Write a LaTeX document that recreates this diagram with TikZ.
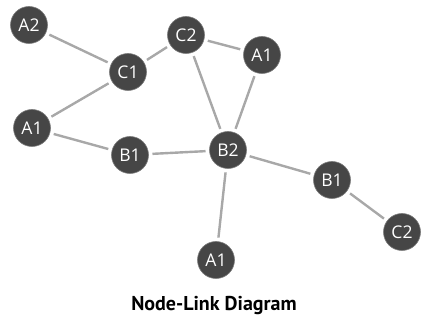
\documentclass[tikz,border=0pt]{standalone}
\usepackage{fontspec}
\setmainfont{Open Sans}
\newfontfamily\titlefont{PT Sans}
\definecolor{nodefill}{HTML}{464646}
\definecolor{nodering}{HTML}{7A7A7A}
\definecolor{edgegray}{HTML}{A8A8A8}
\begin{document}
\begin{tikzpicture}[x=1pt,y=-1pt,
  vtx/.style={circle,fill=nodefill,draw=nodering,line width=0.6pt,minimum size=37pt,inner sep=0pt,outer sep=4pt,text=white,font=\fontsize{17.5}{17.5}\selectfont},
  lnk/.style={draw=edgegray,line width=2.4pt}]
\useasboundingbox (0,0) rectangle (421,323);
\node[vtx] (a2) at (29,25) {A2};
\node[vtx] (c1) at (128,72) {C1};
\node[vtx] (c2) at (186,35) {C2};
\node[vtx] (a1t) at (262,55) {A1};
\node[vtx] (a1l) at (32,128) {A1};
\node[vtx] (b1) at (130,155) {B1};
\node[vtx] (b2) at (228,150) {B2};
\node[vtx] (b1r) at (332,180) {B1};
\node[vtx] (c2r) at (402,232) {C2};
\node[vtx] (a1b) at (216,260) {A1};
\node[font={\titlefont\bfseries\fontsize{20}{20}\selectfont}] (title) at (214,306) {Node-Link Diagram};
\draw[lnk] (a2) -- (c1);
\draw[lnk] (c1) -- (c2);
\draw[lnk] (c2) -- (a1t);
\draw[lnk] (c2) -- (b2);
\draw[lnk] (a1t) -- (b2);
\draw[lnk] (c1) -- (a1l);
\draw[lnk] (a1l) -- (b1);
\draw[lnk] (b1) -- (b2);
\draw[lnk] (b2) -- (b1r);
\draw[lnk] (b1r) -- (c2r);
\draw[lnk] (b2) -- (a1b);
\end{tikzpicture}
\end{document}
